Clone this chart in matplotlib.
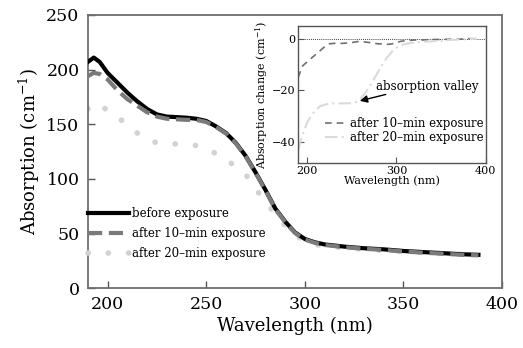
import matplotlib
matplotlib.use("Agg")
import matplotlib.pyplot as plt

plt.rcParams['font.family'] = ['DejaVu Serif']
plt.rcParams['mathtext.fontset'] = 'dejavuserif'

# ---------------- data ----------------
wavelength = [190, 193, 196, 200, 205, 210, 215, 220, 225, 230, 235, 240, 245,
              250, 255, 260, 265, 270, 275, 280, 285, 290, 295, 300, 305, 310,
              320, 330, 340, 350, 360, 370, 380, 388]
before = [207, 211, 207, 197, 188, 179, 171, 164, 159, 157, 156.5, 156, 155,
          153, 148, 142, 133, 121, 106, 90, 73, 61, 51, 45, 42, 40,
          38, 36.5, 35.5, 34, 33, 32, 31, 30.5]
after10 = [194, 197, 196, 191, 181, 173, 167, 161, 157, 155, 154.5, 154, 154,
           152, 147.5, 141.5, 132.5, 120.5, 105.5, 89.5, 72.5, 60.5, 50.5, 44.5, 41.5, 39.5,
           37.5, 36, 35, 33.5, 32.5, 31.5, 30.5, 30]
after20 = [164, 169, 167, 163, 157, 149, 142, 136, 133, 132, 132, 131.5, 130.5,
           128, 123, 118, 111, 104, 91, 79, 68, 57, 49, 43, 40, 38.5,
           37, 35.5, 34.5, 33.5, 32.5, 31.5, 31, 30.5]

inset_wl = [190, 195, 200, 205, 210, 215, 220, 225, 230, 240, 250, 255, 260, 265,
            270, 275, 280, 285, 290, 295, 300, 305, 310, 320, 330, 340, 350, 360,
            370, 380, 390]
change10 = [-15, -10.5, -9, -7.5, -6, -4.5, -3, -2, -1.8, -1.8, -1.5, -1.2, -1, -1.3,
            -1.5, -1.8, -2, -2, -2.2, -2, -1.5, -1, -0.8, -0.5, -0.5, -0.3, -0.3, -0.2,
            -0.2, 0, 0]
change20 = [-43, -37, -32.5, -29.5, -27.5, -26, -25.5, -25, -25, -25, -25, -24.5, -23, -21,
            -18.5, -15.5, -12.5, -9.5, -7, -5, -3.5, -2.5, -2, -1.5, -1.2, -1, -0.8, -0.5,
            -0.3, -0.2, 0]

labels = ['before exposure', 'after 10\u2013min exposure', 'after 20\u2013min exposure']
main_xticks = [200, 250, 300, 350, 400]
main_yticks = [0, 50, 100, 150, 200, 250]
inset_xticks = [200, 300, 400]
inset_yticks = [0, -20, -40]
valley_text = 'absorption valley'
valley_point = (256, -24.3)
valley_text_pos = (277, -18.6)
valley_arrow_start = (291, -21.3)

# ---------------- figure ----------------
fig = plt.figure(figsize=(5.23, 3.48), dpi=100)
ax = fig.add_axes([0.168, 0.172, 0.792, 0.785])

c_black = 'black'
c_gray = '#7a7a7a'
c_light = '#d2d2d2'

ax.plot(wavelength, before, color=c_black, lw=3.0, label=labels[0], zorder=3)
ax.plot(wavelength, after10, color=c_gray, lw=3.0, dashes=(3.4, 1.6), label=labels[1], zorder=4)
ax.plot(wavelength, after20, color=c_light, lw=4.0, dashes=(0.05, 3.6),
        dash_capstyle='round', label=labels[2], zorder=2)

ax.set_xlim(190, 400)
ax.set_ylim(0, 250)
ax.set_xticks(main_xticks)
ax.set_yticks(main_yticks)
ax.tick_params(direction='in', length=5, width=1.0, color='#555555', labelsize=12.5, pad=6)
for s in ax.spines.values():
    s.set_color('#6e6e6e')
    s.set_linewidth(1.3)
ax.set_xlabel('Wavelength (nm)', fontsize=13, labelpad=2)
ax.set_ylabel('Absorption (cm$^{-1}$)', fontsize=13, labelpad=3)

leg = ax.legend(loc='center left', bbox_to_anchor=(0.0, 0.20), frameon=False,
                fontsize=8.5, handlelength=3.5, handletextpad=0.25, labelspacing=0.6,
                borderpad=0, borderaxespad=0)

# ---------------- inset ----------------
ins = fig.add_axes([0.570, 0.532, 0.359, 0.394])
ins.axhline(0, color='black', lw=0.6, ls=(0, (1, 1.5)), zorder=1)
ins.plot(inset_wl, change10, color='#707070', lw=1.2, dashes=(4, 3), label=labels[1])
ins.plot(inset_wl, change20, color='#dadada', lw=1.5, dashes=(6, 2, 1, 2), label=labels[2])
ins.set_xlim(190, 400)
ins.set_ylim(-48, 5)
ins.set_xticks(inset_xticks)
ins.set_yticks(inset_yticks)
ins.set_yticklabels(['0', '\u221220', '\u221240'])
ins.tick_params(direction='in', length=4, width=0.8, color='#555555', labelsize=8, pad=2)
for s in ins.spines.values():
    s.set_color('#555555')
    s.set_linewidth(1.0)
ins.set_xlabel('Wavelength (nm)', fontsize=8, labelpad=0)
ins.set_ylabel('Absorption change (cm$^{-1}$)', fontsize=8, labelpad=1)
ins.legend(loc='center left', bbox_to_anchor=(0.145, 0.237), frameon=False,
           fontsize=8.5, handlelength=1.95, handletextpad=0.1, labelspacing=0.05,
           borderpad=0, borderaxespad=0)
ins.text(valley_text_pos[0], valley_text_pos[1], valley_text, fontsize=8.5,
         ha='left', va='center')
ins.annotate('', xy=valley_point, xytext=valley_arrow_start,
             arrowprops=dict(arrowstyle='-|>', color='black', lw=1.0, mutation_scale=11))

fig.savefig('out.png', dpi=100)
